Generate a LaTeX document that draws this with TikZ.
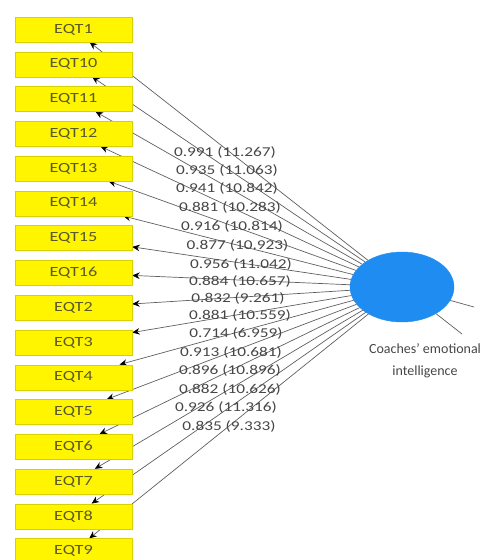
\documentclass[tikz,border=0pt]{standalone}
\usepackage{fontspec}
\setmainfont{Carlito}
\newfontfamily\lblfont{Carlito}[FakeStretch=1.28]
\newfontfamily\boxfont{Carlito}[FakeStretch=1.3]
\usetikzlibrary{arrows.meta,backgrounds,shapes.geometric}
\definecolor{boxyellow}{RGB}{255,245,0}
\definecolor{latentblue}{RGB}{30,140,240}
\definecolor{edgegray}{RGB}{95,95,95}
\definecolor{txtgray}{RGB}{70,70,70}
\definecolor{boxtxt}{RGB}{90,90,40}
\begin{document}
\begin{tikzpicture}[x=1pt,y=-1pt,
  indicator/.style={rectangle, fill=boxyellow, draw=boxyellow!85!black, line width=0.3pt,
    minimum width=117pt, minimum height=25pt, inner sep=0pt,
    font=\boxfont\fontsize{14}{16}\selectfont, text=boxtxt},
  latent/.style={ellipse, fill=latentblue, draw=latentblue, minimum width=104pt,
    minimum height=70pt, inner sep=0pt},
  loading/.style={draw=edgegray, line width=0.7pt, -{Stealth[length=7.5pt,width=6.5pt,black]}},
  plainedge/.style={draw=edgegray, line width=0.7pt},
  est/.style={font=\lblfont\fontsize{13.5}{15}\selectfont, text=txtgray, inner sep=0pt},
  latentlabel/.style={font=\fontsize{14}{22}\selectfont, text=txtgray, align=center, inner sep=0pt}
]
\useasboundingbox (0,0) rectangle (483,560);

\foreach \i/\t in {1/EQT1,2/EQT10,3/EQT11,4/EQT12,5/EQT13,6/EQT14,7/EQT15,8/EQT16,
                   9/EQT2,10/EQT3,11/EQT4,12/EQT5,13/EQT6,14/EQT7,15/EQT8,16/EQT9}
  \node[indicator] (b\i) at (73.5,{29.5+34.77*(\i-1)}) {\t};

\node[latent] (lv) at (402,287) {};

\begin{pgfonlayer}{background}
  \foreach \i in {1,...,16} \draw[loading] (lv) -- (b\i);
  \coordinate (r1) at (474,307);
  \coordinate (r2) at (462,334);
  \draw[plainedge] (lv) -- (r1);
  \draw[plainedge] (lv) -- (r2);
\end{pgfonlayer}

\foreach \i/\x/\y/\v in {1/225/152/{0.991 (11.267)},2/227/170/{0.935 (11.063)},
   3/227/188/{0.941 (10.842)},4/230/207/{0.881 (10.283)},5/232/226/{0.916 (10.814)},
   6/237.5/245/{0.877 (10.923)},7/241/264/{0.956 (11.042)},8/240/281/{0.884 (10.657)},
   9/238/298/{0.832 (9.261)},10/240/315/{0.881 (10.559)},11/236/333/{0.714 (6.959)},
   12/231/352/{0.913 (10.681)},13/230/370/{0.896 (10.896)},14/230/389/{0.882 (10.626)},
   15/226/407/{0.926 (11.316)},16/229/426/{0.835 (9.333)}}
  \node[est] (l\i) at (\x,\y) {\v};

\node[latentlabel] (lvname) at (425,361) {Coaches’ emotional\\intelligence};
\end{tikzpicture}
\end{document}
